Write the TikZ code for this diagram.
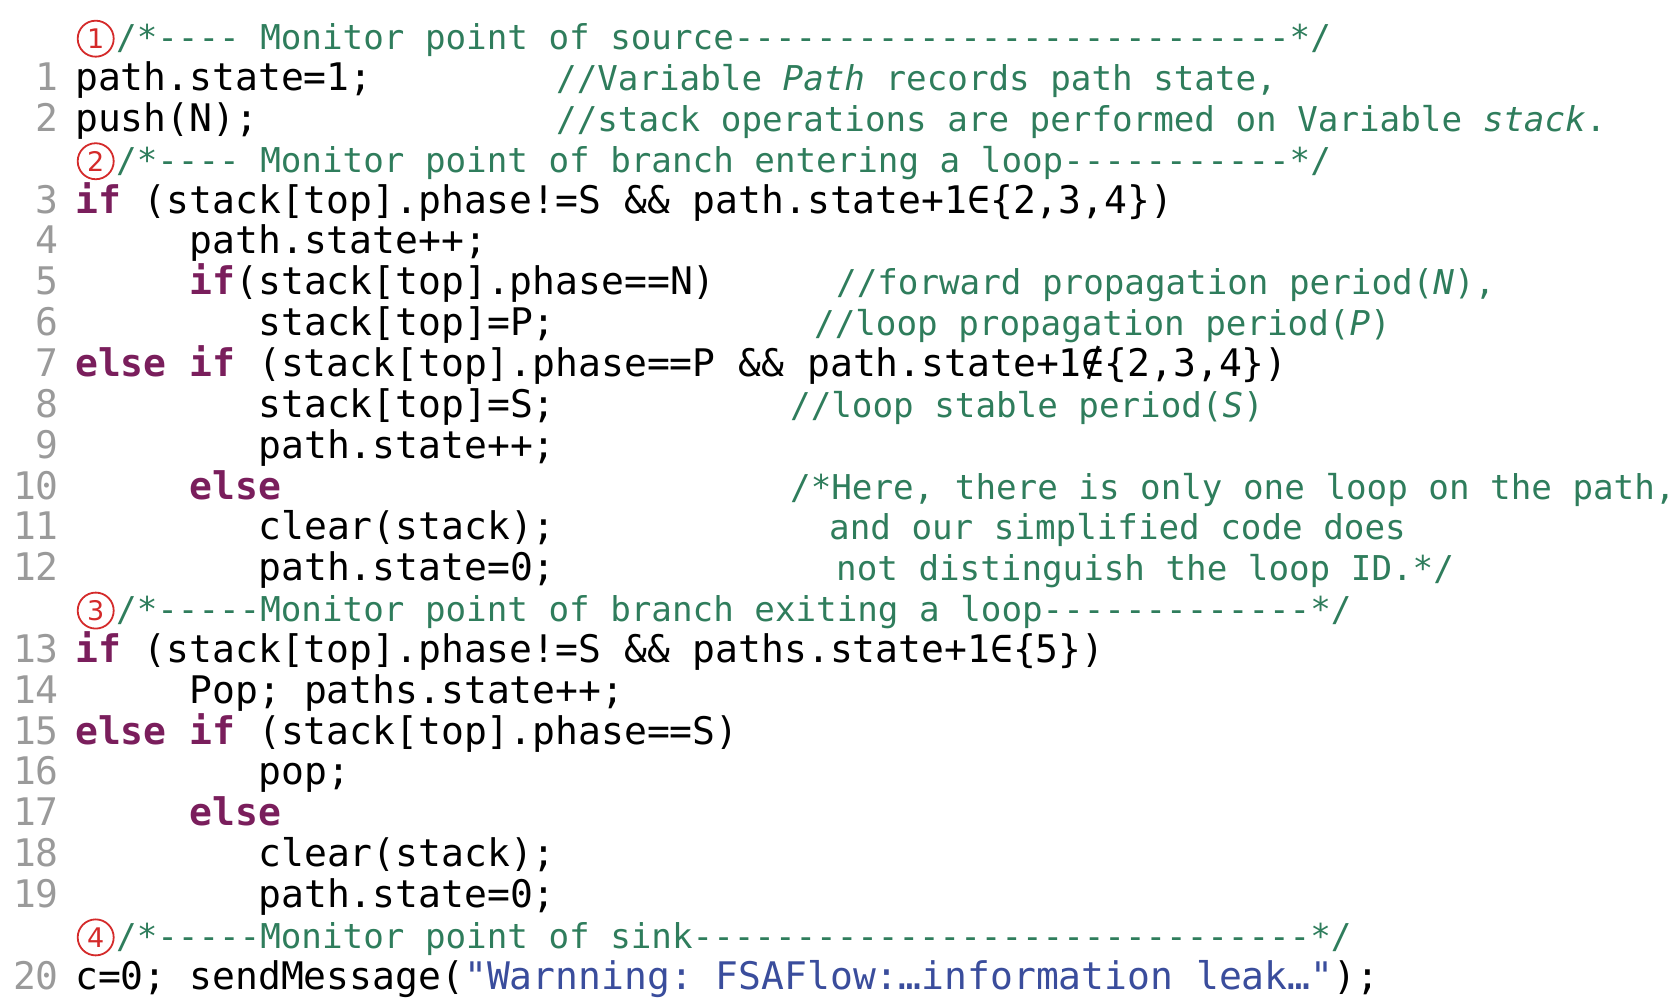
\documentclass[tikz,border=0pt]{standalone}
\usepackage{fontspec}
\setmainfont{DejaVu Sans}
\setmonofont{DejaVu Sans Mono}[WordSpace={1,0,0},PunctuationSpace=WordSpace]
\definecolor{kwcol}{HTML}{7A1E5C}
\definecolor{cmtcol}{HTML}{2F7D5C}
\definecolor{strcol}{HTML}{3A4D9C}
\definecolor{numcol}{HTML}{9A9A9A}
\definecolor{markcol}{HTML}{D42A2A}
\newcommand\kw[1]{{\color{kwcol}\bfseries #1}}
\newcommand\strg[1]{{\color{strcol}#1}}
% row -> baseline, column -> x
\newcommand\rowy[1]{950.3-40.85*#1}
\newcommand\codeat[4]{\node[code] (#1) at ({75+22.9*#3},{\rowy{#2}}) {#4};}
\newcommand\cmtat[4]{\node[cmt] (#1) at (#3,{\rowy{#2}}) {#4};}
\newcommand\numat[2]{\node[lnum] (n#2) at (59,{\rowy{#1}}) {#2};}
\newcommand\markat[3]{%
  \node[mark circle] (m#2) at (95.7,{961.3-40.85*#1}) {#2};
  \node[cmt] (h#2) at (116,{\rowy{#1}}) {#3};}
\begin{document}
\begin{tikzpicture}[x=1pt,y=1pt,
    code/.style={anchor=base west,inner sep=0pt,font=\ttfamily\fontsize{38}{40}\selectfont},
    cmt/.style={anchor=base west,inner sep=0pt,text=cmtcol,font=\ttfamily\fontsize{34.2}{36}\selectfont},
    lnum/.style={anchor=base east,inner sep=0pt,text=numcol,font=\ttfamily\fontsize{38}{40}\selectfont},
    mark circle/.style={circle,draw=markcol,line width=1.8pt,text=markcol,minimum size=36pt,inner sep=0pt,font=\fontsize{27}{27}\selectfont}]
\useasboundingbox (0,0) rectangle (1678,1000);

% monitor point headers
\markat{0}{1}{/*---- Monitor point of source---------------------------*/}
\markat{3}{2}{/*---- Monitor point of branch entering a loop-----------*/}
\markat{14}{3}{/*-----Monitor point of branch exiting a loop-------------*/}
\markat{22}{4}{/*-----Monitor point of sink------------------------------*/}

% line numbers
\foreach \r/\n in {1/1,2/2,4/3,5/4,6/5,7/6,8/7,9/8,10/9,11/10,12/11,13/12,
                   15/13,16/14,17/15,18/16,19/17,20/18,21/19,23/20} {
    \numat{\r}{\n}
}

% code
\codeat{l1}{1}{0}{path.state=1;}
\codeat{l2}{2}{0}{push(N);}
\codeat{l3}{4}{0}{\kw{if} (stack[top].phase!=S \&\& path.state+1∈\{2,3,4\})}
\codeat{l4}{5}{5}{path.state++;}
\codeat{l5}{6}{5}{\kw{if}(stack[top].phase==N)}
\codeat{l6}{7}{8}{stack[top]=P;}
\codeat{l7}{8}{0}{\kw{else if} (stack[top].phase==P \&\& path.state+1∉\{2,3,4\})}
\codeat{l8}{9}{8}{stack[top]=S;}
\codeat{l9}{10}{8}{path.state++;}
\codeat{l10}{11}{5}{\kw{else}}
\codeat{l11}{12}{8}{clear(stack);}
\codeat{l12}{13}{8}{path.state=0;}
\codeat{l13}{15}{0}{\kw{if} (stack[top].phase!=S \&\& paths.state+1∈\{5\})}
\codeat{l14}{16}{5}{Pop; paths.state++;}
\codeat{l15}{17}{0}{\kw{else if} (stack[top].phase==S)}
\codeat{l16}{18}{8}{pop;}
\codeat{l17}{19}{5}{\kw{else}}
\codeat{l18}{20}{8}{clear(stack);}
\codeat{l19}{21}{8}{path.state=0;}
\codeat{l20}{23}{0}{c=0; sendMessage(\strg{"Warnning: FSAFlow:…information leak…"});}

% comments
\cmtat{c1}{1}{556}{//Variable \textit{Path} records path state,}
\cmtat{c2}{2}{556}{//stack operations are performed on Variable \textit{stack}.}
\cmtat{c5}{6}{836}{//forward propagation period(\textit{N}),}
\cmtat{c6}{7}{814}{//loop propagation period(\textit{P})}
\cmtat{c8}{9}{790}{//loop stable period(\textit{S})}
\cmtat{c10}{11}{790}{/*Here, there is only one loop on the path,}
\cmtat{c11}{12}{829}{and our simplified code does}
\cmtat{c12}{13}{836}{not distinguish the loop ID.*/}
\end{tikzpicture}
\end{document}
